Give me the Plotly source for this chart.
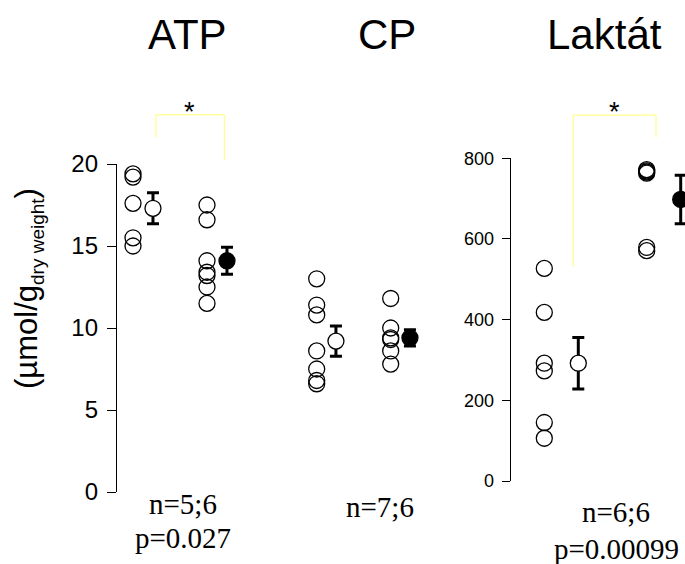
import plotly.graph_objects as go

# ---------------- data ----------------
panel_titles = ["ATP", "CP", "Laktát"]

atp_ctrl = [19.4, 19.2, 17.6, 15.5, 15.0]
atp_trt = [17.5, 16.6, 14.1, 13.4, 13.2, 12.5, 11.5]
cp_ctrl = [13.0, 11.4, 10.8, 8.6, 7.5, 6.8, 6.6]
cp_trt = [11.8, 10.0, 9.4, 9.3, 8.6, 7.8]
lak_ctrl = [527, 418, 292, 273, 145, 106]
lak_trt = [772, 769, 766, 763, 579, 571]

atp_mean = [17.3, 14.1]
atp_sem = [0.95, 0.82]
cp_mean = [9.2, 9.4]
cp_sem = [0.92, 0.5]
lak_mean = [292, 698]
lak_sem = [64, 60]

atp_ticks = [0, 5, 10, 15, 20]
lak_ticks = [0, 200, 400, 600, 800]

atp_stats = ["n=5;6", "p=0.027"]
cp_stats = ["n=7;6"]
lak_stats = ["n=6;6", "p=0.00099"]

y_title = "(µmol/g<sub><span style='font-size:19px'>dry weight</span></sub>)"

# ---------------- figure ----------------
W, H = 685, 564
SANS = "Liberation Sans, Arial, sans-serif"
SERIF = "Liberation Serif, Times New Roman, serif"

fig = go.Figure()

panels = [
    dict(x="x", y="y", ctrl=atp_ctrl, trt=atp_trt, mean=atp_mean, sem=atp_sem, moff=0.27),
    dict(x="x2", y="y2", ctrl=cp_ctrl, trt=cp_trt, mean=cp_mean, sem=cp_sem, moff=0.26),
    dict(x="x3", y="y3", ctrl=lak_ctrl, trt=lak_trt, mean=lak_mean, sem=lak_sem, moff=0.332),
]

for p in panels:
    for g, vals in enumerate([p["ctrl"], p["trt"]]):
        fig.add_trace(go.Scatter(
            x=[g] * len(vals), y=vals, mode="markers", xaxis=p["x"], yaxis=p["y"],
            marker=dict(symbol="circle-open", size=16, color="black", line=dict(width=1.3, color="black")),
            cliponaxis=False, hoverinfo="skip"))
    for g in range(2):
        fig.add_trace(go.Scatter(
            x=[g + p["moff"]], y=[p["mean"][g]], mode="markers", xaxis=p["x"], yaxis=p["y"],
            marker=dict(symbol="circle", size=16, color="white" if g == 0 else "black",
                        line=dict(width=1.3, color="black")),
            error_y=dict(type="data", array=[p["sem"][g]], color="black", thickness=3, width=6),
            cliponaxis=False, hoverinfo="skip"))

# significance brackets (on auxiliary axes with the same scale, extended upward)
bracket_col = "#ffff70"
fig.add_trace(go.Scatter(x=[0.311, 0.311, 1.234, 1.234], y=[21.6, 23.0, 23.0, 20.24],
                         mode="lines", xaxis="x", yaxis="y4",
                         line=dict(color=bracket_col, width=1), hoverinfo="skip"))
fig.add_trace(go.Scatter(x=[0.283, 0.283, 1.091, 1.091], y=[531, 907, 907, 852],
                         mode="lines", xaxis="x3", yaxis="y5",
                         line=dict(color=bracket_col, width=1), hoverinfo="skip"))

def px(v):
    return v / W

def py(v):
    return (H - v) / H

axis_hidden = dict(visible=False, showgrid=False, zeroline=False)
yax_common = dict(showline=True, linecolor="black", linewidth=1.3, ticks="outside",
                  tickcolor="black", tickwidth=1.3, showgrid=False, zeroline=False,
                  automargin=False)

fig.update_layout(
    width=W, height=H, margin=dict(l=0, r=0, t=0, b=0, pad=0, autoexpand=False), autosize=False,
    paper_bgcolor="white", plot_bgcolor="rgba(0,0,0,0)", showlegend=False,
    xaxis=dict(domain=[px(117), px(245)], range=[-0.2162, 1.5135], anchor="y", **axis_hidden),
    yaxis=dict(domain=[py(492), py(164)], range=[0, 20], anchor="x", tickvals=atp_ticks,
               ticklen=9, ticklabelstandoff=4, tickfont=dict(family=SANS, color="black", size=24),
               **yax_common),
    yaxis4=dict(domain=[py(492), 1], range=[0, 492 / 16.4], anchor="x", **axis_hidden),
    xaxis2=dict(domain=[px(290), px(440)], range=[-0.3608, 1.6662], anchor="y2", **axis_hidden),
    yaxis2=dict(domain=[py(492), py(164)], range=[0, 20], anchor="x2", **axis_hidden),
    xaxis3=dict(domain=[px(510.7), 1], range=[-0.3281, 1.374], anchor="y3", **axis_hidden),
    yaxis3=dict(domain=[py(481), py(158.3)], range=[0, 800], anchor="x3", tickvals=lak_ticks,
                ticklen=8, ticklabelstandoff=4, tickfont=dict(family=SANS, color="black", size=18),
                **yax_common),
    yaxis5=dict(domain=[py(481), 1], range=[0, 481 / 0.40338], anchor="x3", **axis_hidden),
)

ann = []
# panel titles
for t, cx in zip(panel_titles, [187.5, 386.7, 604]):
    ann.append(dict(text=t, x=px(cx), y=py(34), xref="paper", yref="paper", showarrow=False,
                    xanchor="center", yanchor="middle", font=dict(family=SANS, size=42, color="black")))
# asterisks
ann.append(dict(text="*", x=0.757, y=23.0, xref="x", yref="y4", showarrow=False, yshift=3,
                xanchor="center", yanchor="middle", font=dict(family=SANS, size=27, color="black")))
ann.append(dict(text="*", x=0.69, y=907, xref="x3", yref="y5", showarrow=False, yshift=3,
                xanchor="center", yanchor="middle", font=dict(family=SANS, size=27, color="black")))
# y-axis title
ann.append(dict(text=y_title, x=px(28), y=py(289), xref="paper", yref="paper", showarrow=False,
                textangle=-90, xanchor="center", yanchor="middle",
                font=dict(family=SANS, size=31, color="black")))
# statistics text
for lines, cx, ys in [(atp_stats, 183, [504, 538]), (cp_stats, 380.5, [507]), (lak_stats, 616, [512, 549])]:
    for s, yy in zip(lines, ys):
        ann.append(dict(text=s, x=px(cx), y=py(yy), xref="paper", yref="paper", showarrow=False,
                        xanchor="center", yanchor="middle", font=dict(family=SERIF, size=29, color="black")))
fig.update_layout(annotations=ann)

fig.write_html("out.html", config={"displayModeBar": False},
               post_script="document.body.style.margin='0';document.body.style.overflow='hidden';")
